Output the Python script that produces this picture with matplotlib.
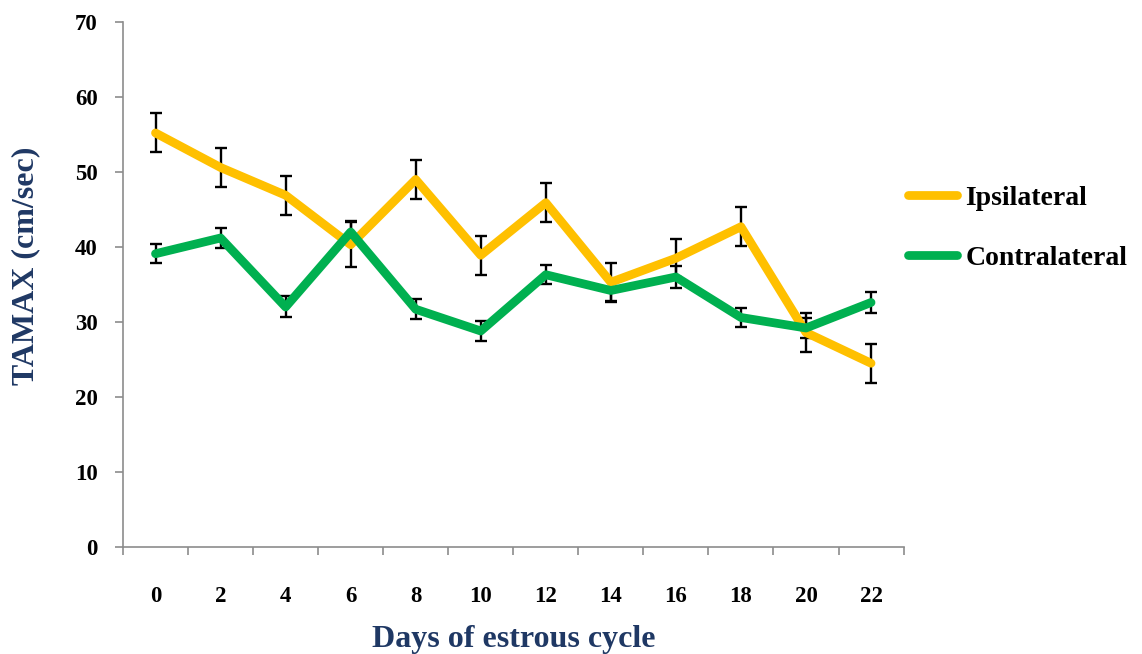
import numpy as np
import matplotlib
matplotlib.use("Agg")
import matplotlib.pyplot as plt

# Data
days = ['0', '2', '4', '6', '8', '10', '12', '14', '16', '18', '20', '22']
ipsi = [55.2, 50.6, 46.9, 40.3, 49.0, 38.9, 45.9, 35.3, 38.5, 42.7, 28.6, 24.5]
ipsi_err = [2.6, 2.6, 2.6, 3.0, 2.6, 2.6, 2.6, 2.5, 2.5, 2.6, 2.6, 2.6]
contra = [39.1, 41.2, 32.0, 42.0, 31.7, 28.8, 36.3, 34.2, 36.0, 30.6, 29.2, 32.6]
contra_err = [1.3, 1.3, 1.4, 1.5, 1.3, 1.3, 1.3, 1.5, 1.5, 1.3, 1.3, 1.4]

navy = '#1F3864'
orange = '#FFC000'
green = '#00B050'

plt.rcParams['font.family'] = ['Liberation Serif', 'DejaVu Serif']
plt.rcParams['font.weight'] = 'bold'

fig = plt.figure(figsize=(11.42, 6.54), dpi=100)
ax = fig.add_axes([0.1077, 0.1636, 0.6835, 0.8028])

x = np.arange(len(days))

# error bars first, lines on top
ax.errorbar(x, ipsi, yerr=ipsi_err, fmt='none', ecolor='black', elinewidth=1.7,
            capsize=4, capthick=1.7, zorder=2)
ax.errorbar(x, contra, yerr=contra_err, fmt='none', ecolor='black', elinewidth=1.7,
            capsize=4, capthick=1.7, zorder=2)
ax.plot(x, ipsi, color=orange, lw=6.3, solid_joinstyle='round', solid_capstyle='round',
        label='Ipsilateral', zorder=3)
ax.plot(x, contra, color=green, lw=6.3, solid_joinstyle='round', solid_capstyle='round',
        label='Contralateral', zorder=3)

ax.set_xlim(-0.5, len(days) - 0.5)
ax.set_ylim(0, 70)
ax.set_yticks(np.arange(0, 71, 10))
ax.set_xticks(x)
ax.set_xticklabels(days)
ax.set_xticks(np.arange(-0.5, len(days), 1), minor=True)

for s in ['top', 'right']:
    ax.spines[s].set_visible(False)
for s in ['left', 'bottom']:
    ax.spines[s].set_color('#8C8C8C')
    ax.spines[s].set_linewidth(1.2)

ax.tick_params(axis='x', which='major', length=0, pad=28, labelsize=16.5)
ax.tick_params(axis='x', which='minor', length=6, width=1.2, color='#8C8C8C', direction='out')
ax.tick_params(axis='y', length=6, width=1.2, color='#8C8C8C', direction='out', pad=12, labelsize=16.5)
for lab in ax.get_xticklabels() + ax.get_yticklabels():
    lab.set_fontweight('bold')

ax.set_ylabel('TAMAX (cm/sec)', fontsize=23, fontweight='bold', color=navy)
ax.yaxis.set_label_coords(-0.106, 0.535)
ax.set_xlabel('Days of estrous cycle', fontsize=23, fontweight='bold', color=navy)
ax.xaxis.set_label_coords(0.5, -0.149)

ax.legend(loc='center left', bbox_to_anchor=(1.006, 0.607), frameon=False,
          borderaxespad=0, borderpad=0, handlelength=1.75, handletextpad=0.3,
          labelspacing=1.25, prop={'size': 20, 'weight': 'bold'})

fig.savefig('out.png', dpi=100)
